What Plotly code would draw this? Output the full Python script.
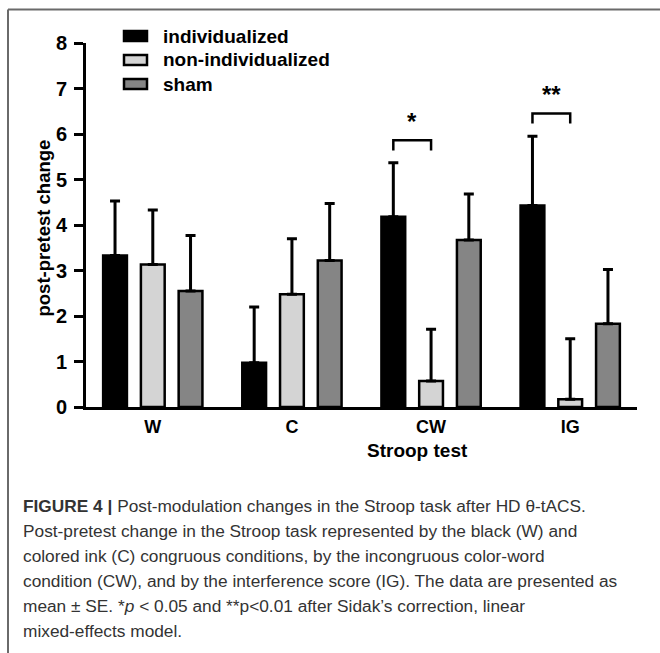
import plotly.graph_objects as go

# ---- data ----
categories = ["W", "C", "CW", "IG"]
series_names = ["individualized", "non-individualized", "sham"]
individualized = [3.33, 0.97, 4.18, 4.43]
individualized_se = [1.20, 1.23, 1.19, 1.52]
non_individualized = [3.13, 2.48, 0.57, 0.17]
non_individualized_se = [1.20, 1.22, 1.14, 1.33]
sham = [2.55, 3.22, 3.67, 1.83]
sham_se = [1.22, 1.25, 1.01, 1.19]
colors = ["#000000", "#d4d4d4", "#858585"]
y_ticks = [0, 1, 2, 3, 4, 5, 6, 7, 8]
# significance: (category, label, bracket level)
significance = [("CW", "*", 5.86), ("IG", "**", 6.45)]

caption_lines = [
    "<b>FIGURE 4 |</b> Post-modulation changes in the Stroop task after HD θ-tACS.",
    "Post-pretest change in the Stroop task represented by the black (W) and",
    "colored ink (C) congruous conditions, by the incongruous color-word",
    "condition (CW), and by the interference score (IG). The data are presented as",
    "mean ± SE. *<i>p</i> &lt; 0.05 and **p&lt;0.01 after Sidak’s correction, linear",
    "mixed-effects model.",
]

W, H = 660, 653
L, R, T, B = 86, 637, 43, 407
BARGAP = 0.186
GROUPGAP = 0.37


def px(x):
    return (x - L) / (R - L)


def py(y):
    return (B - y) / (B - T)


FONT = "Liberation Sans, Arial, sans-serif"

fig = go.Figure()
vals = [individualized, non_individualized, sham]
ses = [individualized_se, non_individualized_se, sham_se]
for name, v, e, c in zip(series_names, vals, ses, colors):
    fig.add_trace(go.Bar(
        x=categories, y=v, name=name,
        marker=dict(color=c, line=dict(color="black", width=2.5)),
        error_y=dict(type="data", symmetric=False, array=e,
                     arrayminus=[0] * len(e), thickness=3, width=5, color="black"),
        showlegend=False,
    ))

shapes = []
annotations = []

# significance brackets (between individualized and non-individualized bars)
slot = (1 - BARGAP) / 3
for cat, label, level in significance:
    ci = categories.index(cat)
    x0 = ci - slot
    x1 = ci
    shapes.append(dict(type="path", xref="x", yref="y",
                       path=f"M{x0},{level - 0.22} L{x0},{level} L{x1},{level} L{x1},{level - 0.22}",
                       line=dict(color="black", width=2.5)))
    annotations.append(dict(x=(x0 + x1) / 2, y=level + 0.08, xref="x", yref="y",
                            text=f"<b>{label}</b>", showarrow=False, yanchor="bottom",
                            font=dict(family=FONT, size=24, color="black")))

# manual legend
leg_y = [36, 60, 84]
for name, c, yy in zip(series_names, colors, leg_y):
    shapes.append(dict(type="rect", xref="paper", yref="paper",
                       x0=px(124), x1=px(147), y0=py(yy - 5), y1=py(yy + 5),
                       fillcolor=c, line=dict(color="black", width=2.5)))
    annotations.append(dict(x=px(161), y=py(yy), xref="paper", yref="paper",
                            text=name, showarrow=False, xanchor="left", yanchor="middle",
                            font=dict(family=FONT, size=19, color="black", weight="bold")))

# frame (top and left)
shapes.append(dict(type="line", xref="paper", yref="paper", x0=px(8), x1=px(660),
                   y0=py(9.5), y1=py(9.5), line=dict(color="#6a6a6a", width=2)))
shapes.append(dict(type="line", xref="paper", yref="paper", x0=px(8), x1=px(8),
                   y0=py(9.5), y1=py(653), line=dict(color="#6a6a6a", width=2)))

# caption
cap_y = [506, 531, 556, 581, 606, 631]
for line, yy in zip(caption_lines, cap_y):
    annotations.append(dict(x=px(21), y=py(yy), xref="paper", yref="paper",
                            text=line, showarrow=False, xanchor="left", yanchor="middle",
                            font=dict(family="Liberation Sans, Arial, sans-serif",
                                      size=17.3, color="#333333")))

# axis titles
annotations.append(dict(x=px(417), y=py(450), xref="paper", yref="paper",
                        text="Stroop test", showarrow=False, yanchor="middle",
                        font=dict(family=FONT, size=19, color="black", weight="bold")))
annotations.append(dict(x=px(30), y=py(228), xref="paper", yref="paper",
                        text="post-pretest change", showarrow=False, textangle=-90,
                        font=dict(family=FONT, size=18.5, color="black", weight="bold")))

fig.update_layout(
    width=W, height=H,
    margin=dict(l=L, r=W - R, t=T, b=H - B, pad=0),
    paper_bgcolor="white", plot_bgcolor="white",
    barmode="group", bargap=BARGAP, bargroupgap=GROUPGAP,
    shapes=shapes, annotations=annotations,
    xaxis=dict(range=[-0.48, 3.48], showline=True, linecolor="black", linewidth=3,
               ticks="", showgrid=False, zeroline=False, ticklabelstandoff=1,
               tickfont=dict(family=FONT, size=18, color="black", weight="bold")),
    yaxis=dict(range=[0, 8], tickvals=y_ticks, showline=True, linecolor="black",
               linewidth=3, ticks="outside", ticklen=9, tickwidth=3, tickcolor="black",
               showgrid=False, zeroline=False, ticklabelstandoff=3,
               tickfont=dict(family=FONT, size=20, color="black", weight="bold")),
)
for tr in fig.data:
    tr.cliponaxis = False

fig.write_html("out.html", config={"displayModeBar": False},
               post_script="document.body.style.margin='0';document.body.style.overflow='hidden';")
